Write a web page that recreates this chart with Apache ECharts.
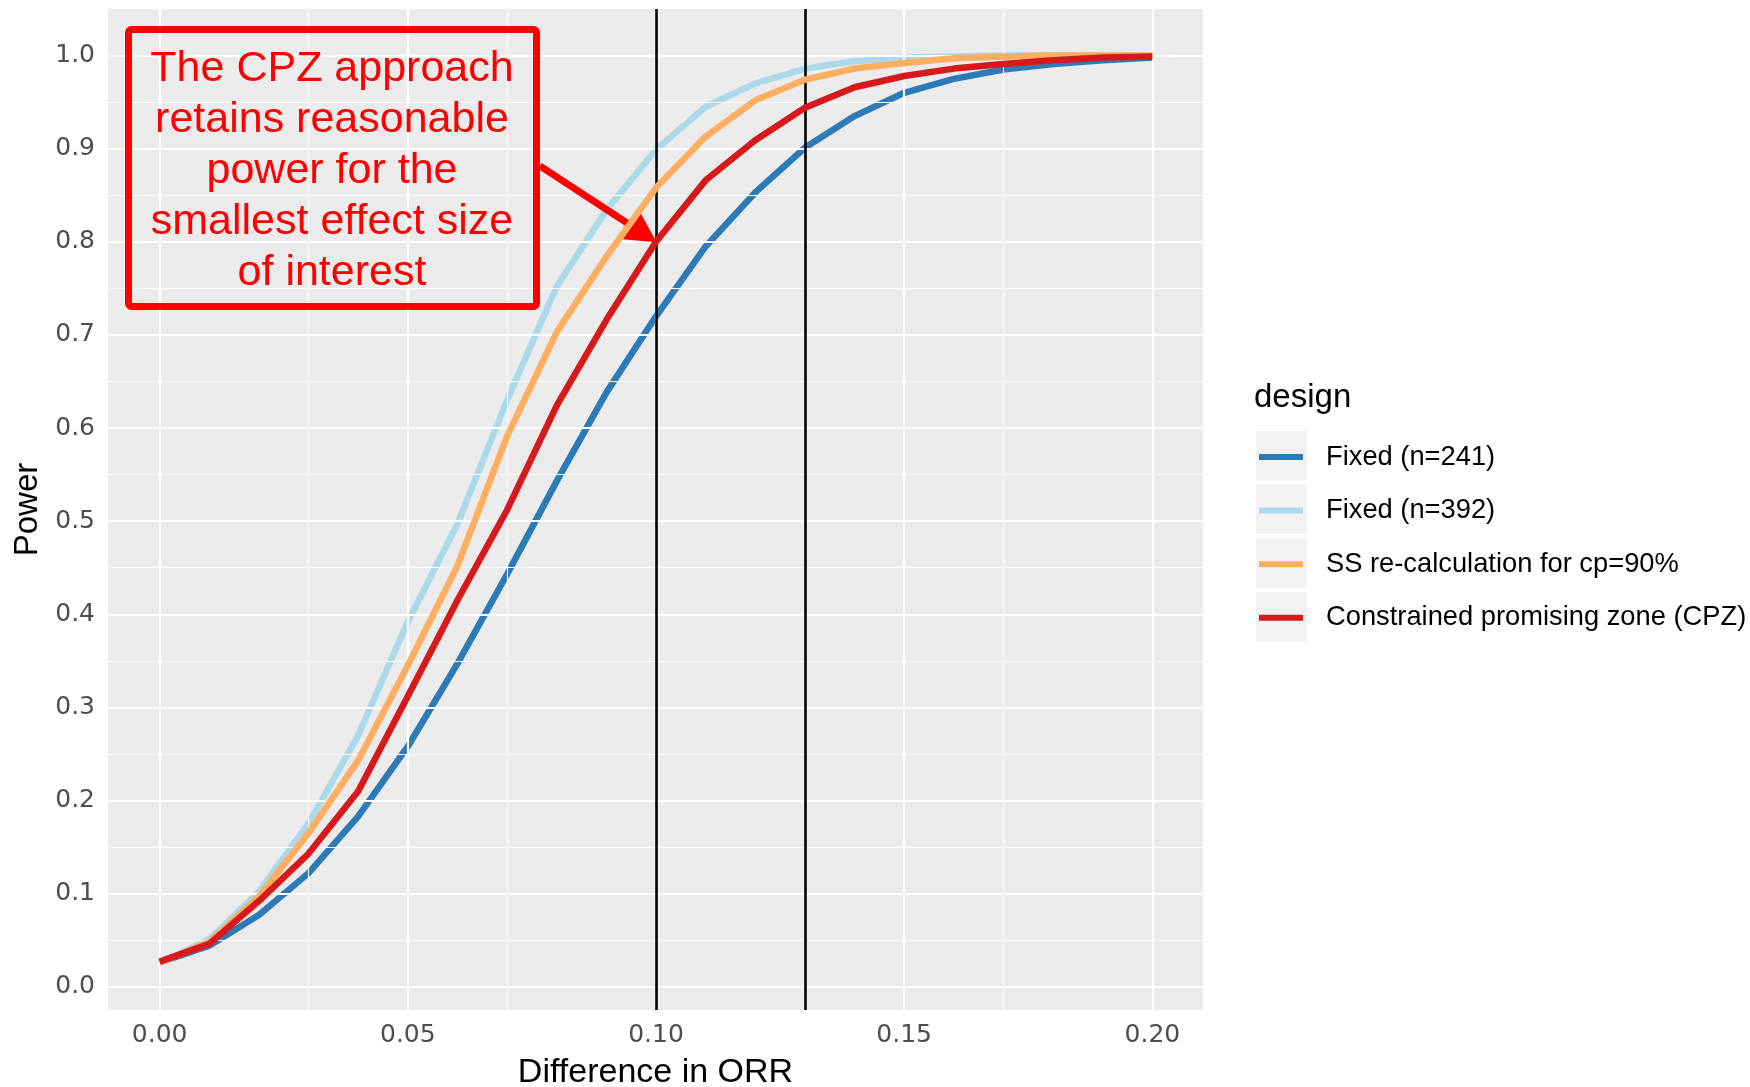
<!DOCTYPE html>
<html>
<head>
<meta charset="utf-8">
<script src="https://cdn.jsdelivr.net/npm/echarts@6/dist/echarts.min.js"></script>
<style>
  html, body { margin: 0; padding: 0; background: #ffffff; }
  #main { width: 1750px; height: 1087px; }
</style>
</head>
<body>
<div id="main"></div>
<script>
// power curves
var orrDiff = [0.00, 0.01, 0.02, 0.03, 0.04, 0.05, 0.06, 0.07, 0.08, 0.09, 0.10,
               0.11, 0.12, 0.13, 0.14, 0.15, 0.16, 0.17, 0.18, 0.19, 0.20];
var fixed241 = [0.026, 0.044, 0.077, 0.122, 0.183, 0.258, 0.347, 0.443, 0.543, 0.638, 0.720,
                0.795, 0.853, 0.901, 0.935, 0.960, 0.975, 0.985, 0.991, 0.995, 0.998];
var fixed392 = [0.025, 0.051, 0.102, 0.175, 0.270, 0.392, 0.497, 0.630, 0.752, 0.834, 0.899,
                0.945, 0.970, 0.986, 0.994, 0.998, 0.999, 1.000, 1.000, 1.000, 1.000];
var ssRecalc = [0.026, 0.048, 0.097, 0.165, 0.243, 0.345, 0.452, 0.591, 0.703, 0.784, 0.858,
                0.913, 0.952, 0.974, 0.986, 0.992, 0.997, 0.999, 1.000, 1.000, 1.000];
var cpz = [0.027, 0.046, 0.092, 0.143, 0.210, 0.312, 0.415, 0.512, 0.624, 0.716, 0.800,
           0.866, 0.909, 0.944, 0.966, 0.978, 0.986, 0.991, 0.995, 0.998, 0.999];

var seriesNames = ['Fixed (n=241)', 'Fixed (n=392)', 'SS re-calculation for cp=90%', 'Constrained promising zone (CPZ)'];
var seriesColors = ['#2c7bb6', '#abd9e9', '#fdae61', '#d7191c'];

var xTicks = [0, 0.05, 0.10, 0.15, 0.20];
var xMinor = [0.025, 0.075, 0.125, 0.175];
var yTicks = [0, 0.1, 0.2, 0.3, 0.4, 0.5, 0.6, 0.7, 0.8, 0.9, 1.0];
var yMinor = [0.05, 0.15, 0.25, 0.35, 0.45, 0.55, 0.65, 0.75, 0.85, 0.95];
var refLines = [0.10, 0.13];

// arrow from the note box to the CPZ curve at 0.10
var arrowFrom = [0.0766, 0.8816];
var arrowTo = [0.0976, 0.8083];

var noteText = 'The CPZ approach\nretains reasonable\npower for the\nsmallest effect size\nof interest';

var myChart = echarts.init(document.getElementById('main'));

function pairs(ys) {
  return orrDiff.map(function (x, i) { return [x, ys[i]]; });
}

// ggplot style grid drawn as marker lines
var gridLines = [];
xTicks.forEach(function (v) { gridLines.push({ xAxis: v, lineStyle: { width: 2.2 } }); });
xMinor.forEach(function (v) { gridLines.push({ xAxis: v, lineStyle: { width: 1.1 } }); });
yTicks.forEach(function (v) { gridLines.push({ yAxis: v, lineStyle: { width: 2.2 } }); });
yMinor.forEach(function (v) { gridLines.push({ yAxis: v, lineStyle: { width: 1.1 } }); });

var series = [{
  name: 'grid',
  type: 'line',
  data: [],
  z: 1,
  markLine: {
    silent: true,
    symbol: ['none', 'none'],
    label: { show: false },
    lineStyle: { color: '#ffffff', type: 'solid' },
    animation: false,
    data: gridLines
  }
}];

var curves = [fixed241, fixed392, ssRecalc, cpz];
curves.forEach(function (ys, i) {
  series.push({
    name: seriesNames[i],
    type: 'line',
    data: pairs(ys),
    showSymbol: false,
    z: 3 + i,
    lineStyle: { color: seriesColors[i], width: 6.5 },
    itemStyle: { color: seriesColors[i] }
  });
});

series.push({
  name: 'refs',
  type: 'line',
  data: [],
  z: 10,
  markLine: {
    silent: true,
    symbol: ['none', 'none'],
    label: { show: false },
    lineStyle: { color: '#000000', width: 2.6, type: 'solid' },
    animation: false,
    data: refLines.map(function (v) { return { xAxis: v }; })
  }
});

series.push({
  name: 'arrow',
  type: 'line',
  data: [],
  z: 11,
  markLine: {
    silent: true,
    symbol: ['none', 'triangle'],
    symbolSize: [32, 30],
    label: { show: false },
    lineStyle: { color: '#ff0000', width: 7, type: 'solid' },
    itemStyle: { color: '#ff0000' },
    animation: false,
    data: [[{ coord: arrowFrom }, { coord: arrowTo }]]
  }
});

var legendKeys = seriesNames.map(function (n, i) {
  return {
    type: 'rect',
    z: 0,
    shape: { x: 1256, y: 431 + i * 53.6, width: 51, height: 49.5 },
    style: { fill: '#f2f2f2' }
  };
});

var option = {
  backgroundColor: '#ffffff',
  animation: false,
  textStyle: { fontFamily: 'Liberation Sans' },
  title: {
    text: 'design',
    left: 1254,
    top: 381,
    padding: 0,
    textStyle: { fontSize: 33, fontWeight: 'normal', color: '#000000', fontFamily: 'Liberation Sans' }
  },
  legend: {
    data: seriesNames,
    orient: 'vertical',
    left: 1259,
    top: 442,
    padding: 0,
    icon: 'rect',
    itemWidth: 44,
    itemHeight: 6,
    itemGap: 23.6,
    selectedMode: false,
    textStyle: { fontSize: 27.3, lineHeight: 30, color: '#000000', fontFamily: 'Liberation Sans', padding: [0, 0, 0, 18] }
  },
  grid: {
    left: 108,
    top: 9,
    width: 1095,
    height: 1001,
    containLabel: false,
    outerBoundsMode: 'none',
    show: true,
    backgroundColor: '#ebebeb',
    borderWidth: 0
  },
  xAxis: {
    type: 'value',
    min: -0.0104,
    max: 0.2102,
    name: 'Difference in ORR',
    nameLocation: 'middle',
    nameGap: 46,
    nameTextStyle: { fontSize: 34, color: '#000000', fontFamily: 'Liberation Sans' },
    axisLine: { show: false },
    splitLine: { show: false },
    axisTick: { show: true, customValues: xTicks, length: 7, lineStyle: { color: '#333333', width: 2 } },
    axisLabel: {
      customValues: xTicks,
      margin: 13,
      fontSize: 25,
      color: '#4d4d4d',
      fontFamily: 'DejaVu Sans',
      formatter: function (v) { return v.toFixed(2); }
    }
  },
  yAxis: {
    type: 'value',
    min: -0.025,
    max: 1.050,
    name: 'Power',
    nameLocation: 'middle',
    nameRotate: 90,
    nameGap: 64,
    nameTextStyle: { fontSize: 33, color: '#000000', fontFamily: 'Liberation Sans' },
    axisLine: { show: false },
    splitLine: { show: false },
    axisTick: { show: true, customValues: yTicks, length: 7, lineStyle: { color: '#333333', width: 2 } },
    axisLabel: {
      customValues: yTicks,
      margin: 13,
      fontSize: 25,
      color: '#4d4d4d',
      fontFamily: 'DejaVu Sans',
      formatter: function (v) { return v.toFixed(1); }
    }
  },
  graphic: legendKeys.concat([
    {
      type: 'rect',
      z: 20,
      shape: { x: 128.5, y: 29.5, width: 408, height: 277, r: 3 },
      style: { fill: 'rgba(0,0,0,0)', stroke: '#ff0000', lineWidth: 7 }
    },
    {
      type: 'text',
      z: 21,
      x: 332,
      y: 171,
      style: {
        text: noteText,
        fill: '#ff0000',
        font: '43px "Liberation Sans"',
        align: 'center',
        verticalAlign: 'middle',
        lineHeight: 51
      }
    }
  ]),
  series: series
};

myChart.setOption(option);
</script>
</body>
</html>
